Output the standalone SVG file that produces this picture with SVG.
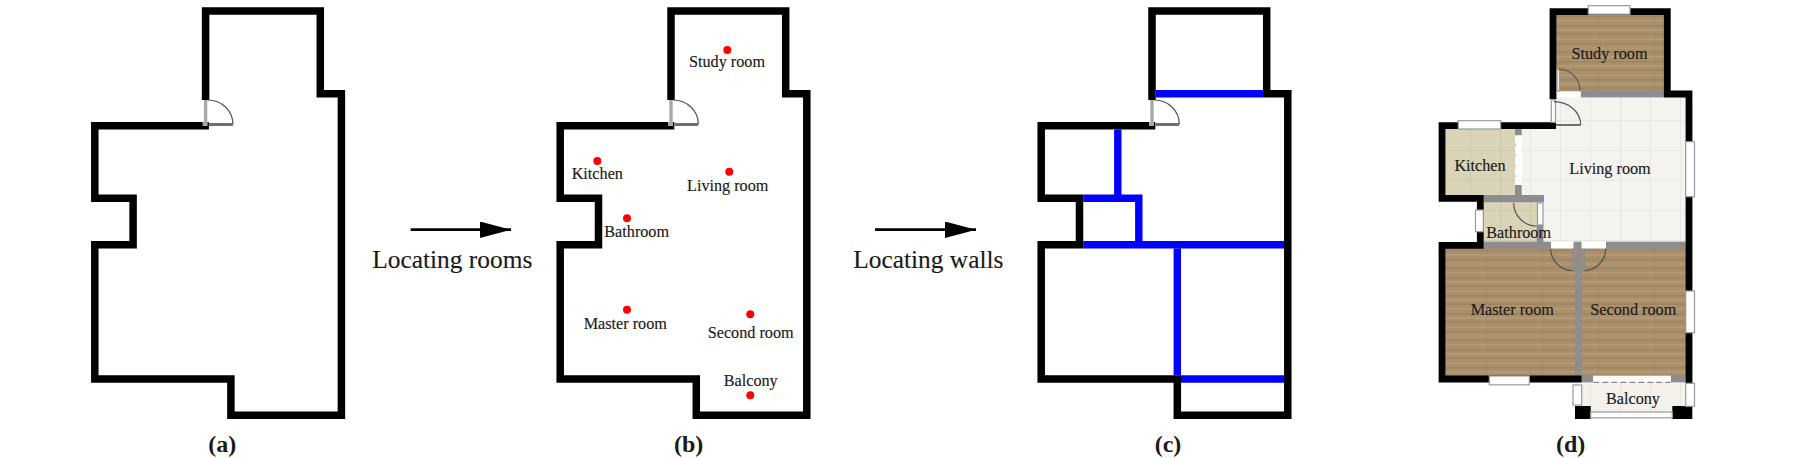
<svg xmlns="http://www.w3.org/2000/svg" width="1800" height="458" viewBox="0 0 1800 458">
<style>
.wall{fill:none;stroke:#000;stroke-width:7.5;stroke-linejoin:miter}
.blue{fill:none;stroke:#0000ff;stroke-width:7.4}
.arc{fill:none;stroke:#555;stroke-width:1.2}
.jamb{fill:#a8a8a8}
.leaf{fill:#6f6f6f}
.lab{font-family:"Liberation Serif",serif;font-size:16.2px;fill:#1a1a1a;stroke:#1a1a1a;stroke-width:.15;text-anchor:middle}
.cap{font-family:"Liberation Serif",serif;font-size:24px;font-weight:bold;fill:#1a1a1a;text-anchor:middle}
.step{font-family:"Liberation Serif",serif;font-size:25.4px;fill:#1a1a1a;stroke:#1a1a1a;stroke-width:.15;text-anchor:middle}
.dot{fill:#ff0000}
.gray{fill:#8c8c91}
.blk{fill:#000}
.win{fill:#fff;stroke:#9a9a9a;stroke-width:1.2}
.open{fill:#fff}
.wood{fill:url(#wood)}
.tile{fill:url(#tile)}
.kit{fill:url(#kit)}
.bal{fill:url(#bal)}
</style>
<defs>
<pattern id="wood" width="56" height="18" patternUnits="userSpaceOnUse">
<rect width="56" height="18" fill="#aa8f6b"/>
<rect y="2" width="56" height="2" fill="#b29975"/>
<rect y="7" width="56" height="1.5" fill="#a08560"/>
<rect y="11" width="56" height="2" fill="#b29975"/>
<rect y="15.5" width="56" height="1.5" fill="#a08560"/>
<rect x="30" width="1" height="18" fill="#a08560" opacity=".5"/>
</pattern>
<pattern id="tile" width="30" height="30" patternUnits="userSpaceOnUse">
<rect width="30" height="30" fill="#f5f3ef"/>
<path d="M0 .5H30M.5 0V30" stroke="#eae7e0" stroke-width="1" fill="none"/>
</pattern>
<pattern id="kit" width="30" height="30" patternUnits="userSpaceOnUse">
<rect width="30" height="30" fill="#d9d4b7"/>
<path d="M0 .5H30M.5 0V30" stroke="#cfc9aa" stroke-width="1" fill="none"/>
</pattern>
<pattern id="bal" width="30" height="30" patternUnits="userSpaceOnUse">
<rect width="30" height="30" fill="#f3f1ea"/>
<path d="M.5 0V30" stroke="#e8e5de" stroke-width="1" fill="none"/>
</pattern>
<g id="shell">
<path class="wall" d="M1152,100V11H1266.7V93.8H1287.8V415.2H1177.3V379H1041.2V244.8H1079.5V198.2H1041.2V125.8H1155.3"/>
<rect class="jamb" x="1150.3" y="100" width="3.4" height="22.5"/>
<rect class="jamb" x="1149" y="122" width="5" height="4"/>
<rect class="leaf" x="1155.3" y="123" width="24" height="3"/>
<path class="arc" d="M1154.3,100A25,24 0 0 1 1179.3,124"/>
</g>
<marker id="head" markerUnits="userSpaceOnUse" markerWidth="32" markerHeight="17" refX="31" refY="8.2" orient="auto">
<path d="M0,0L31,8.2L0,16.4Z" fill="#000"/>
</marker>
</defs>
<rect width="1800" height="458" fill="#fff"/>

<g id="plan-a">
<use href="#shell" transform="translate(-946.4 0)"/>
<text class="cap" x="222.3" y="451.5">(a)</text>
</g>

<g id="plan-b">
<use href="#shell" transform="translate(-481 0)"/>
<g id="points">
<circle class="dot" cx="727.3" cy="50" r="4"/>
<circle class="dot" cx="597.3" cy="161" r="4"/>
<circle class="dot" cx="729.3" cy="171.7" r="4"/>
<circle class="dot" cx="627" cy="218.3" r="4"/>
<circle class="dot" cx="627" cy="309.7" r="4"/>
<circle class="dot" cx="750.3" cy="314.3" r="4"/>
<circle class="dot" cx="750.3" cy="395.3" r="4"/>
</g>
<text class="lab" x="727" y="66.7">Study room</text>
<text class="lab" x="597.3" y="179.3">Kitchen</text>
<text class="lab" x="727.7" y="190.7">Living room</text>
<text class="lab" x="636.7" y="237.3">Bathroom</text>
<text class="lab" x="625.3" y="329.3">Master room</text>
<text class="lab" x="750.7" y="337.7">Second room</text>
<text class="lab" x="750.7" y="385.7">Balcony</text>
<text class="cap" x="688.7" y="451.5">(b)</text>
</g>

<g id="plan-c">
<use href="#shell"/>
<g id="located-walls">
<path class="blue" d="M1155.7,93.8H1263"/>
<path class="blue" d="M1117.8,129.5V198.2"/>
<path class="blue" d="M1083.2,198.2H1138.8V244.8"/>
<path class="blue" d="M1083.2,244.8H1284"/>
<path class="blue" d="M1177.3,248.4V375.3"/>
<path class="blue" d="M1181,379H1284"/>
</g>
<text class="cap" x="1168" y="451.5">(c)</text>
</g>

<g id="plan-d">
<g id="floors">
<rect id="study-floor" class="wood" x="1556" y="14.5" width="108.5" height="77"/>
<path id="living-floor" class="tile" d="M1556,97H1686V242H1543V202H1521.7V129H1556Z"/>
<rect id="kitchen-floor" class="kit" x="1445" y="129" width="71" height="66.5"/>
<rect id="bath-floor" class="kit" x="1483.3" y="202" width="54" height="40"/>
<rect id="master-floor" class="wood" x="1445" y="248" width="131" height="128"/>
<rect id="second-floor" class="wood" x="1581" y="248" width="105" height="128"/>
<rect id="balcony-floor" class="bal" x="1581.7" y="382" width="104" height="30"/>
</g>
<g id="inner-walls">
<rect class="gray" x="1580.7" y="90.7" width="83.5" height="6.7"/>
<rect class="gray" x="1515" y="129" width="6.7" height="6.5"/>
<rect class="gray" x="1515" y="185" width="6.7" height="10.5"/>
<rect class="gray" x="1483.3" y="195" width="60.7" height="7.2"/>
<rect class="gray" x="1536.7" y="225" width="6.7" height="17"/>
<rect class="gray" x="1483.3" y="241.7" width="67.7" height="6.8"/>
<rect class="gray" x="1606" y="241.7" width="79.7" height="6.8"/>
<rect class="gray" x="1573.3" y="241.7" width="8.4" height="7"/>
<rect class="gray" x="1575" y="248" width="6.7" height="128"/>
<rect class="gray" x="1581.7" y="375.7" width="11.6" height="6.6"/>
<rect class="gray" x="1670.7" y="375.7" width="15" height="6.6"/>
</g>
<g id="openings">
<rect class="open" x="1556.3" y="91.5" width="24.4" height="5.8"/>
<rect class="open" x="1551" y="241.7" width="22.3" height="6.8"/>
<rect class="open" x="1581.7" y="241.7" width="24.3" height="6.8"/>
<rect class="open" x="1593.3" y="375.7" width="77.4" height="6.6"/>
<path d="M1593.3,382.3H1670.7" stroke="#8a8a8a" stroke-width="1.2" stroke-dasharray="6 3" fill="none"/>
<path d="M1518.3,135.5V185" stroke="#fff" stroke-width="6.7" stroke-dasharray="7.5 3" fill="none"/>
<rect class="win" x="1537.5" y="203" width="5.5" height="22"/>
</g>
<g id="outer-walls">
<path class="wall" style="stroke-width:6.8" d="M1553,99.3V11.7H1667.3V94H1689V383.3"/>
<path class="wall" style="stroke-width:6.8" d="M1556,125.7H1442V198.4H1480.3V245.4H1442V379H1581.7"/>
<rect class="blk" x="1575" y="406" width="15.7" height="13"/>
<rect class="blk" x="1672.3" y="406" width="20" height="13"/>
</g>
<g id="windows">
<rect class="win" x="1588.3" y="5.7" width="41.7" height="8.5"/>
<rect class="win" x="1458.3" y="120.7" width="42.4" height="8.3"/>
<rect class="win" x="1489.3" y="376" width="40" height="8.8"/>
<rect class="win" x="1685.7" y="141.7" width="8.8" height="55"/>
<rect class="win" x="1685.7" y="291" width="8.8" height="41.7"/>
<rect class="win" x="1475.5" y="210" width="7.8" height="21.7"/>
<rect class="win" x="1573" y="385" width="8.7" height="20"/>
<rect class="win" x="1685.7" y="383.3" width="8.8" height="23"/>
<rect class="win" x="1590.7" y="412" width="81.6" height="5.8"/>
</g>
<g id="doors">
<rect class="win" x="1551.3" y="100" width="4.2" height="22.3"/>
<rect class="leaf" x="1556" y="124" width="24.7" height="2"/>
<path class="arc" d="M1554,101.7A26.7,23.3 0 0 1 1580.7,125"/>
<rect class="win" x="1557" y="69" width="2.4" height="22"/>
<path class="arc" d="M1558.3,69A21.7,21.7 0 0 1 1580,90.7"/>
<path class="arc" d="M1513.7,203A23,23 0 0 0 1536.7,226"/>
<path class="arc" d="M1550.7,248.7A22.6,22 0 0 0 1573.3,270.7"/>
<path class="arc" d="M1583.3,270.7A22.4,22 0 0 0 1605.7,248.7"/>
<rect class="gray" x="1571.7" y="249" width="2.4" height="21.7"/>
<rect class="gray" x="1582.7" y="249" width="2.4" height="21.7"/>
</g>
<text class="lab" x="1609.5" y="59">Study room</text>
<text class="lab" x="1480" y="170.7">Kitchen</text>
<text class="lab" x="1610" y="174.3">Living room</text>
<text class="lab" x="1518.7" y="237.7">Bathroom</text>
<text class="lab" x="1512.3" y="315.3">Master room</text>
<text class="lab" x="1633.3" y="315.3">Second room</text>
<text class="lab" x="1633" y="403.7">Balcony</text>
<text class="cap" x="1570.7" y="451.5">(d)</text>
</g>

<g id="connectors" fill="none" stroke="#000" stroke-width="2.7">
<path d="M410.7,229.7H511" marker-end="url(#head)"/>
<path d="M875,229.7H976" marker-end="url(#head)"/>
</g>
<text class="step" x="452.3" y="267.7">Locating rooms</text>
<text class="step" x="928.3" y="267.7">Locating walls</text>
</svg>
